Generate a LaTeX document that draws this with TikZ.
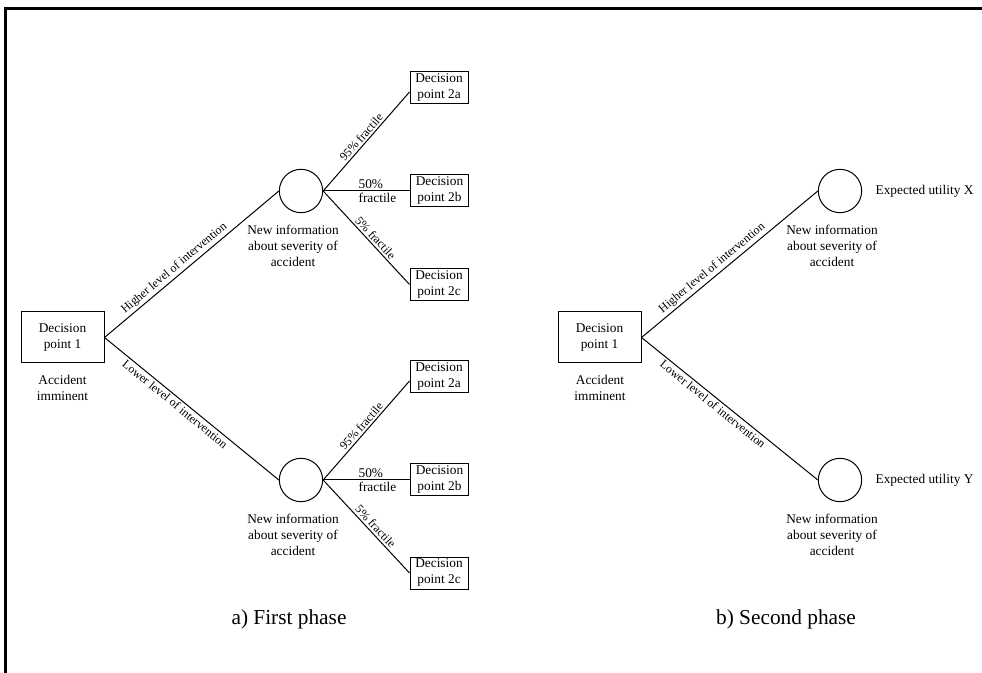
\documentclass[tikz,border=0pt]{standalone}
\usepackage{fontspec}
\setmainfont{Liberation Serif}
\usetikzlibrary{calc}
\begin{document}
\begin{tikzpicture}[x=0.75pt,y=-0.75pt,
  every node/.style={font=\fontsize{10}{12}\selectfont, inner sep=1pt},
  dbox/.style={draw, line width=0.75pt, align=center, minimum width=43.5pt, minimum height=24pt, inner sep=1.5pt},
  bigbox/.style={draw, line width=0.75pt, align=center, minimum width=62.25pt, minimum height=38.25pt},
  chance/.style={draw, circle, line width=0.75pt, minimum size=32.5pt, inner sep=0pt},
  txt/.style={align=center},
  lbl/.style={font=\fontsize{9}{10}\selectfont, sloped, inner sep=1.5pt},
  captext/.style={font=\fontsize{16}{19}\selectfont},
  conn/.style={line width=0.75pt},
  framestyle/.style={line width=2.25pt}
]
\useasboundingbox (0,0) rectangle (982,673);
\coordinate (fa) at (5.5,673);
\coordinate (fb) at (5.5,8.5);
\coordinate (fc) at (982,8.5);
\draw[framestyle] (fa) -- (fb) -- (fc);

% ---------- left tree ----------
\node[bigbox] (d1) at (62.5,337.5) {Decision\\point 1};
\node[txt] (a1) at (62.5,388) {Accident\\imminent};
\node[chance] (c1) at (301,191) {};
\node[chance] (c2) at (301,480) {};
\node[txt] (n1) at (293,246) {New information\\about severity of\\accident};
\node[txt] (n2) at (293,535) {New information\\about severity of\\accident};
\node[dbox] (u2a) at (439,88) {Decision\\point 2a};
\node[dbox] (u2b) at (439.5,191) {Decision\\point 2b};
\node[dbox] (u2c) at (439,284.5) {Decision\\point 2c};
\node[dbox] (l2a) at (439,377) {Decision\\point 2a};
\node[dbox] (l2b) at (439.5,480) {Decision\\point 2b};
\node[dbox] (l2c) at (439,573) {Decision\\point 2c};

\draw[conn] (d1.east) -- node[lbl, above, pos=0.43] {Higher level of intervention} (c1.west);
\draw[conn] (d1.east) -- node[lbl, below, pos=0.43] {Lower level of intervention} (c2.west);

\draw[conn] (c1.east) -- node[lbl, above, pos=0.5] {95\% fractile} ($(u2a.west)+(0,4)$);
\draw[conn] (c1.east) -- (u2b.west);
\node[align=left, anchor=west, font=\fontsize{10}{10.5}\selectfont] (f1) at (357,191) {50\%\\fractile};
\draw[conn] (c1.east) -- node[lbl, above, pos=0.55] {5\% fractile} (u2c.west);

\draw[conn] (c2.east) -- node[lbl, above, pos=0.5] {95\% fractile} ($(l2a.west)+(0,4)$);
\draw[conn] (c2.east) -- (l2b.west);
\node[align=left, anchor=west, font=\fontsize{10}{10.5}\selectfont] (f2) at (357,480) {50\%\\fractile};
\draw[conn] (c2.east) -- node[lbl, above, pos=0.55] {5\% fractile} (l2c.west);

% ---------- right tree ----------
\node[bigbox] (r1) at (599.5,337.5) {Decision\\point 1};
\node[txt] (ra) at (600,388) {Accident\\imminent};
\node[chance] (rc1) at (840,191) {};
\node[chance] (rc2) at (840,480) {};
\node[txt] (rn1) at (832,246) {New information\\about severity of\\accident};
\node[txt] (rn2) at (832,535) {New information\\about severity of\\accident};
\node[anchor=west] (ex) at (874,191) {Expected utility X};
\node[anchor=west] (ey) at (874,480) {Expected utility Y};

\draw[conn] (r1.east) -- node[lbl, above, pos=0.43] {Higher level of intervention} (rc1.west);
\draw[conn] (r1.east) -- node[lbl, below, pos=0.43] {Lower level of intervention} (rc2.west);

% ---------- captions ----------
\node[captext] (capa) at (289,619) {a) First phase};
\node[captext] (capb) at (786,619) {b) Second phase};
\end{tikzpicture}
\end{document}
